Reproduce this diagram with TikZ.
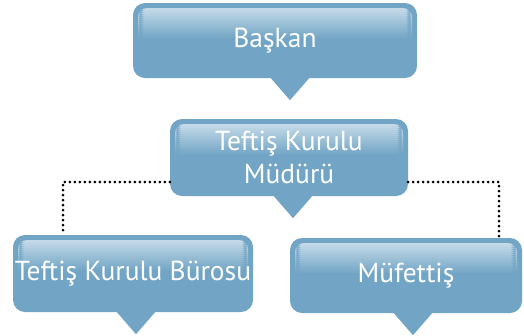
\documentclass[tikz,border=0pt]{standalone}
\usepackage{fontspec}
\setmainfont{PT Sans}
\usepackage{tikz}
\usetikzlibrary{positioning,calc}
\definecolor{boxblue}{HTML}{72A5C5}
\definecolor{glossblue}{HTML}{C4DAE8}
\newcommand{\tail}[2]{\fill[boxblue] ($(#1.south)+(#2pt-20pt,1pt)$) -- ($(#1.south)+(#2pt,-22pt)$) -- ($(#1.south)+(#2pt+20pt,1pt)$) -- cycle;}
\begin{document}
\begin{tikzpicture}
[x=1pt,y=1pt,
bub/.style={fill=boxblue,rounded corners=12pt,text=white,inner sep=0pt,align=center,
  font=\fontsize{27.5}{33}\selectfont,
  path picture={\clip[rounded corners=9pt]
    ([shift={(5pt,-5pt)}]path picture bounding box.north west) rectangle
    ([shift={(-5pt,-10pt)}]path picture bounding box.east);
    \foreach \i in {0,...,15}
      {\pgfmathsetmacro{\mix}{100-\i*100/15}
       \fill[glossblue!\mix!boxblue] ([yshift=-5pt-2*\i pt]path picture bounding box.north west)
         rectangle ([yshift=-7.2pt-2*\i pt]path picture bounding box.north east);}}},
link/.style={line width=3pt,line cap=round,dash pattern=on 0pt off 5pt}]
\useasboundingbox (0,0) rectangle (524,-335);
\node[bub,minimum width=284pt,minimum height=75pt] (baskan) at (275,-40.5) {Başkan};
\node[bub,minimum width=238pt,minimum height=77pt] (mudur) at (289,-157.5) {Teftiş Kurulu\\Müdürü};
\node[bub,minimum width=240pt,minimum height=77pt] (buro) at (133,-273.5) {Teftiş Kurulu Bürosu};
\node[bub,minimum width=232pt,minimum height=75pt] (mufettis) at (406,-275.5) {Müfettiş};
\tail{baskan}{15}
\tail{mudur}{4}
\tail{buro}{3}
\tail{mufettis}{7}
\draw[link] ([yshift=-24.5pt]mudur.west) -| ([xshift=-70pt]buro.north);
\draw[link] ([yshift=-24.5pt]mudur.east) -| ([xshift=93pt]mufettis.north);
\end{tikzpicture}
\end{document}
